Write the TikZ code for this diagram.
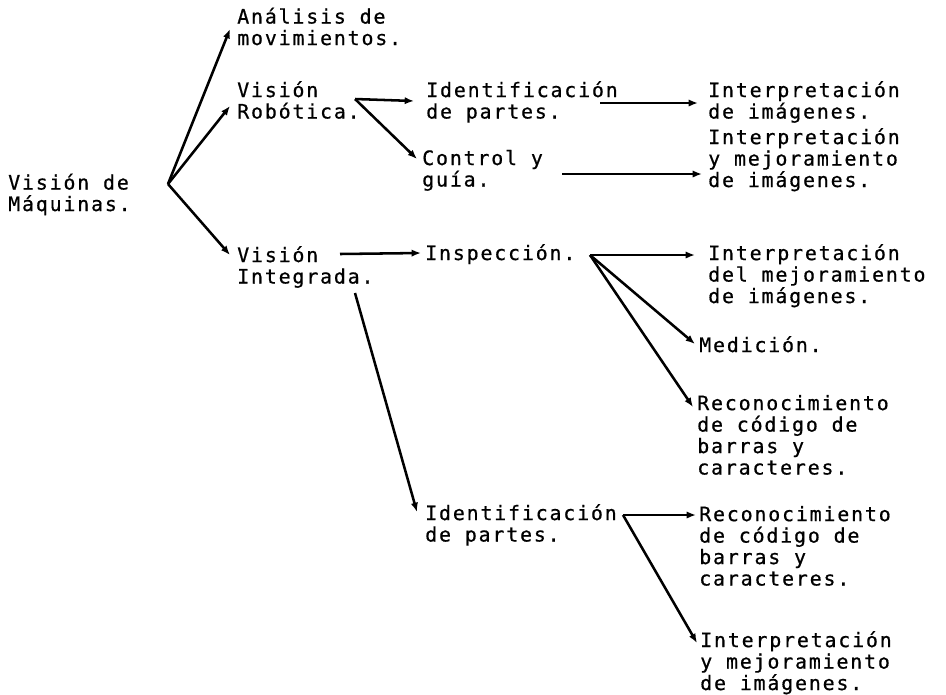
\documentclass[tikz,border=0pt]{standalone}
\usepackage{fontspec}
\newfontfamily\tw[LetterSpace=9.3,FakeBold=0.7]{DejaVu Sans Mono}
\usetikzlibrary{arrows.meta}
\begin{document}
\begin{tikzpicture}[x=0.75pt,y=-0.75pt,
  lbl/.style={anchor=base west, align=left, inner sep=0pt,
    font={\tw\fontsize{14.9pt}{16.1pt}\selectfont}},
  conn/.style={line width=1.9pt, -{Latex[length=7pt,width=5.5pt]}}]
\useasboundingbox (0,0) rectangle (946,694);
% texts (anchored at the baseline of their last line)
\node[lbl] (vm)  at (8,211)     {Visión de\\Máquinas.};
\node[lbl] (am)  at (237,45)    {Análisis de\\movimientos.};
\node[lbl] (vr)  at (237,118.5) {Visión\\Robótica.};
\node[lbl] (vi)  at (237,283.5) {Visión\\Integrada.};
\node[lbl] (ip1) at (426,118.5) {Identificación\\de partes.};
\node[lbl] (cg)  at (422,186.5) {Control y\\guía.};
\node[lbl] (ins) at (425,260)   {Inspección.};
\node[lbl] (ip2) at (425,541.5) {Identificación\\de partes.};
\node[lbl] (in1) at (708,118.5) {Interpretación\\de imágenes.};
\node[lbl] (in2) at (708,187)   {Interpretación\\y mejoramiento\\de imágenes.};
\node[lbl] (in3) at (708,303)   {Interpretación\\del mejoramiento\\de imágenes.};
\node[lbl] (med) at (699,352)   {Medición.};
\node[lbl] (rc1) at (697,474.5) {Reconocimiento\\de código de\\barras y\\caracteres.};
\node[lbl] (rc2) at (699,585.5) {Reconocimiento\\de código de\\barras y\\caracteres.};
\node[lbl] (in4) at (700,690)   {Interpretación\\y mejoramiento\\de imágenes.};
% junctions and ends
\coordinate (j0) at (168,184);
\coordinate (t-am) at (230,29);
\coordinate (t-vr) at (230,106);
\coordinate (t-vi) at (230,255);
\coordinate (j1) at (355,99);
\coordinate (t-ip1) at (414,101);
\coordinate (t-cg) at (417,159);
\coordinate (s-ip1) at (600,103);
\coordinate (t-in1) at (698,103);
\coordinate (s-cg) at (562,174);
\coordinate (t-in2) at (702,174);
\coordinate (s-vi) at (340,254);
\coordinate (t-ins) at (421,253);
\coordinate (j2) at (590,255);
\coordinate (t-in3) at (695,255);
\coordinate (t-med) at (695,344);
\coordinate (t-rc1) at (693,407);
\coordinate (s-vi2) at (355,293);
\coordinate (t-ip2) at (417,512);
\coordinate (j3) at (623,515);
\coordinate (t-rc2) at (696,515);
\coordinate (t-in4) at (697,643);
% connectors
\draw[conn] (j0) -- (t-am);
\draw[conn] (j0) -- (t-vr);
\draw[conn] (j0) -- (t-vi);
\draw[conn] (j1) -- (t-ip1);
\draw[conn] (j1) -- (t-cg);
\draw[conn] (s-ip1) -- (t-in1);
\draw[conn] (s-cg) -- (t-in2);
\draw[conn] (s-vi) -- (t-ins);
\draw[conn] (j2) -- (t-in3);
\draw[conn] (j2) -- (t-med);
\draw[conn] (j2) -- (t-rc1);
\draw[conn] (s-vi2) -- (t-ip2);
\draw[conn] (j3) -- (t-rc2);
\draw[conn] (j3) -- (t-in4);
\end{tikzpicture}
\end{document}
